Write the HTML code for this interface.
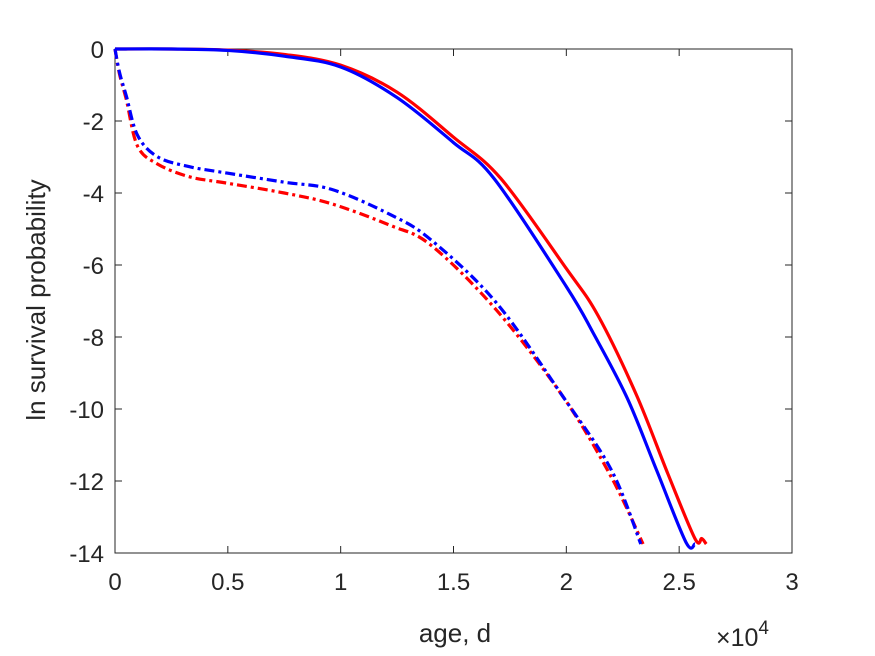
<!DOCTYPE html>
<html><head><meta charset="utf-8"><style>
body{margin:0;background:#fff;}
svg{display:block;font-family:"Liberation Sans",Arial,sans-serif;}
</style></head><body>
<svg id="chart" width="875" height="656" viewBox="0 0 875 656">
<rect width="875" height="656" fill="#fff"/>
<g id="axes"></g>
<g id="series"></g>
<text x="45" y="300" transform="rotate(-90 45 300)" text-anchor="middle" font-size="26" fill="#262626">ln survival probability</text>
<text x="455" y="642" text-anchor="middle" font-size="26" fill="#262626">age, d</text>
<text x="716" y="646" font-size="25" fill="#262626">×10<tspan dy="-12" font-size="19">4</tspan></text>
</svg>
<script>
const xTicks=[0,0.5,1,1.5,2,2.5,3];
const xTickLabels=["0","0.5","1","1.5","2","2.5","3"];
const yTicks=[0,-2,-4,-6,-8,-10,-12,-14];
const yTickLabels=["0","-2","-4","-6","-8","-10","-12","-14"];
const redSolidX=[0,0.25,0.5,0.75,1,1.25,1.5,1.71,2,2.14,2.31,2.45,2.57,2.6,2.62];
const redSolidY=[0,0,-0.03,-0.15,-0.45,-1.2,-2.45,-3.6,-6.1,-7.4,-9.6,-11.8,-13.6,-13.6,-13.75];
const blueSolidX=[0,0.25,0.5,0.75,1,1.25,1.5,1.68,2,2.12,2.27,2.4,2.53,2.57];
const blueSolidY=[0,0,-0.04,-0.2,-0.5,-1.35,-2.6,-3.6,-6.6,-7.9,-9.7,-11.7,-13.7,-13.75];
const redDashX=[0,0.02,0.05,0.1,0.19,0.33,0.5,0.75,0.96,1.22,1.4,1.69,1.99,2.2,2.34];
const redDashY=[0,-0.7,-1.4,-2.7,-3.2,-3.55,-3.73,-4.0,-4.3,-4.9,-5.45,-7.25,-9.7,-11.9,-13.75];
const blueDashX=[0,0.02,0.05,0.1,0.19,0.33,0.5,0.75,0.96,1.22,1.4,1.69,1.99,2.2,2.33];
const blueDashY=[0,-0.65,-1.3,-2.4,-3.0,-3.27,-3.45,-3.7,-3.9,-4.6,-5.3,-7.05,-9.7,-11.7,-13.75];

const L=115,R=792,T=49,B=553;
const xs=v=>L+(v-0)/3*(R-L);
const ys=v=>T+(0-v)/14*(B-T);
const NS="http://www.w3.org/2000/svg";
const axes=document.getElementById('axes');
const series=document.getElementById('series');
function mk(tag,attrs,parent){const e=document.createElementNS(NS,tag);for(const k in attrs)e.setAttribute(k,attrs[k]);parent.appendChild(e);return e;}

const box=mk('rect',{x:L,y:T,width:R-L,height:B-T,fill:'none',stroke:'#262626','stroke-width':1},axes);


xTicks.forEach((t,i)=>{
  const x=xs(t);
  const tk=mk('path',{d:`M${x},${B}v-7M${x},${T}v7`,stroke:'#262626','stroke-width':1},axes);
  
  
  const lb=mk('text',{x:x,y:B+37,'text-anchor':'middle','font-size':24,fill:'#262626'},axes);
  lb.textContent=xTickLabels[i];
  
  
});
yTicks.forEach((t,i)=>{
  const y=ys(t);
  const tk=mk('path',{d:`M${L},${y}h7M${R},${y}h-7`,stroke:'#262626','stroke-width':1},axes);
  
  
  const lb=mk('text',{x:L-11,y:y+9,'text-anchor':'end','font-size':24,fill:'#262626'},axes);
  lb.textContent=yTickLabels[i];
  
  
});
function smooth(X,Y){
  const p=X.map((x,i)=>[xs(x),ys(Y[i])]);
  let d=`M${p[0][0]},${p[0][1]}`;
  for(let i=0;i<p.length-1;i++){
    const p0=p[i-1]||p[i],p1=p[i],p2=p[i+1],p3=p[i+2]||p2;
    const c1=[p1[0]+(p2[0]-p0[0])/6,p1[1]+(p2[1]-p0[1])/6];
    const c2=[p2[0]-(p3[0]-p1[0])/6,p2[1]-(p3[1]-p1[1])/6];
    d+=`C${c1[0]},${c1[1]} ${c2[0]},${c2[1]} ${p2[0]},${p2[1]}`;
  }
  return d;
}
const dd='10,4,3,4';
const s1=mk('path',{d:smooth(redDashX,redDashY),fill:'none',stroke:'#ff0000','stroke-width':3.2,'stroke-dasharray':dd},series);


const s2=mk('path',{d:smooth(blueDashX,blueDashY),fill:'none',stroke:'#0000ff','stroke-width':3.2,'stroke-dasharray':dd},series);


const s3=mk('path',{d:smooth(redSolidX,redSolidY),fill:'none',stroke:'#ff0000','stroke-width':3.2},series);


const s4=mk('path',{d:smooth(blueSolidX,blueSolidY),fill:'none',stroke:'#0000ff','stroke-width':3.2},series);


</script>
</body></html>
